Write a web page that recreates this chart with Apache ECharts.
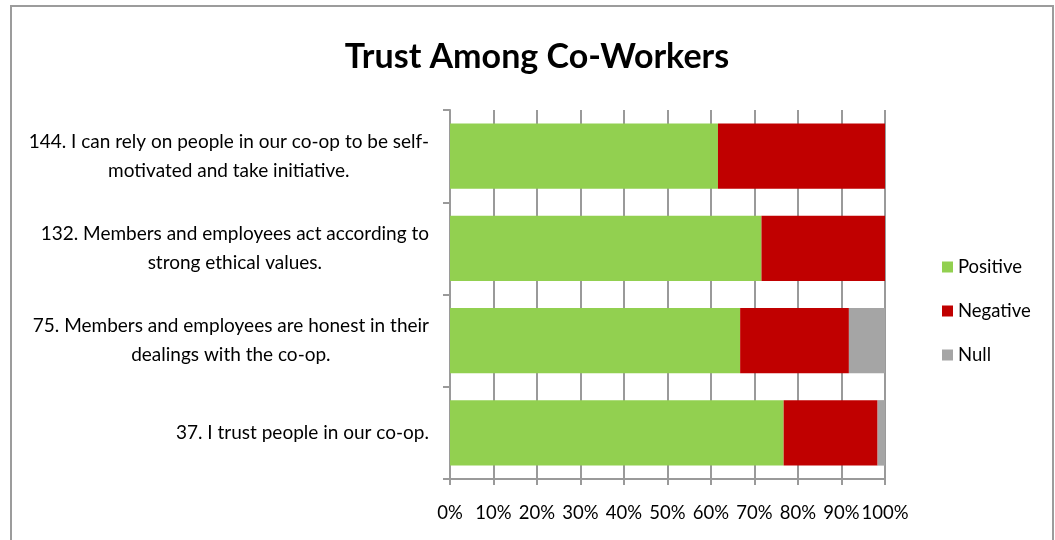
<!DOCTYPE html>
<html>
<head>
<meta charset="utf-8">
<title>Trust Among Co-Workers</title>
<script src="https://cdn.jsdelivr.net/npm/echarts@6/dist/echarts.min.js"></script>
<style>
  html, body { margin: 0; padding: 0; background: #ffffff; }
  #chart { width: 1055px; height: 540px; }
</style>
</head>
<body>
<div id="chart"></div>
<script>
// Survey statements, listed bottom to top as they appear on the axis
const categories = [
  '37. I trust people in our co-op.',
  '75. Members and employees are honest in their\ndealings with the co-op.',
  '132. Members and employees act according to\nstrong ethical values.',
  '144. I can rely on people in our co-op to be self-\nmotivated and take initiative.'
];

// Share of responses (percent) per statement
const positive = [76.7, 66.7, 71.6, 61.6];
const negative = [21.6, 25.0, 28.4, 38.4];
const nullResp = [1.7, 8.3, 0, 0];

const xTicks = { min: 0, max: 100, interval: 10 };

const FONT = 'Lato, "Open Sans", sans-serif';
const GRID_GRAY = '#9a9a9a';

const chart = echarts.init(document.getElementById('chart'), null, { renderer: 'canvas' });

const barSeries = (name, data, color) => ({
  name: name,
  type: 'bar',
  stack: 'total',
  barCategoryGap: '29%',
  data: data,
  itemStyle: { color: color },
  emphasis: { disabled: true }
});

chart.setOption({
  backgroundColor: '#ffffff',
  animation: false,
  textStyle: { fontFamily: FONT },
  title: {
    text: 'Trust Among Co-Workers',
    left: 532,
    top: 35,
    textAlign: 'center',
    textStyle: { fontFamily: FONT, fontSize: 34, fontWeight: 'bold', color: '#000000' }
  },
  legend: {
    orient: 'vertical',
    left: 937,
    top: 252,
    icon: 'rect',
    itemWidth: 11,
    itemHeight: 11,
    itemGap: 24,
    textStyle: { fontFamily: FONT, fontSize: 18.5, color: '#000000', lineHeight: 20 },
    data: ['Positive', 'Negative', 'Null']
  },
  graphic: [{
    type: 'rect',
    silent: true,
    shape: { x: 11, y: 6, width: 1042, height: 560 },
    style: { fill: 'none', stroke: '#9c9c9c', lineWidth: 2 }
  }],
  grid: { left: 450, right: 170, top: 110, bottom: 61, containLabel: false },
  xAxis: {
    type: 'value',
    min: xTicks.min,
    max: xTicks.max,
    interval: xTicks.interval,
    axisLine: { show: true, lineStyle: { color: GRID_GRAY, width: 2 } },
    axisTick: { show: true, length: 6, lineStyle: { color: GRID_GRAY, width: 2 } },
    axisLabel: {
      formatter: '{value}%',
      fontFamily: FONT,
      fontSize: 18.5,
      color: '#000000',
      margin: 25
    },
    splitLine: { show: true, lineStyle: { color: GRID_GRAY, width: 2 } }
  },
  yAxis: {
    type: 'category',
    data: categories,
    axisLine: { show: true, lineStyle: { color: GRID_GRAY, width: 2 } },
    axisTick: { show: true, length: 7, lineStyle: { color: GRID_GRAY, width: 2 } },
    axisLabel: {
      margin: 21,
      align: 'right',
      formatter: function (value) {
        return value.split('\n').map(function (line) { return '{c|' + line + '}'; }).join('\n');
      },
      rich: {
        c: { align: 'center', fontFamily: FONT, fontSize: 19, lineHeight: 29, color: '#000000' }
      }
    },
    splitLine: { show: false }
  },
  series: [
    barSeries('Positive', positive, '#92D050'),
    barSeries('Negative', negative, '#C00000'),
    barSeries('Null', nullResp, '#A5A5A5')
  ]
});
</script>
</body>
</html>
